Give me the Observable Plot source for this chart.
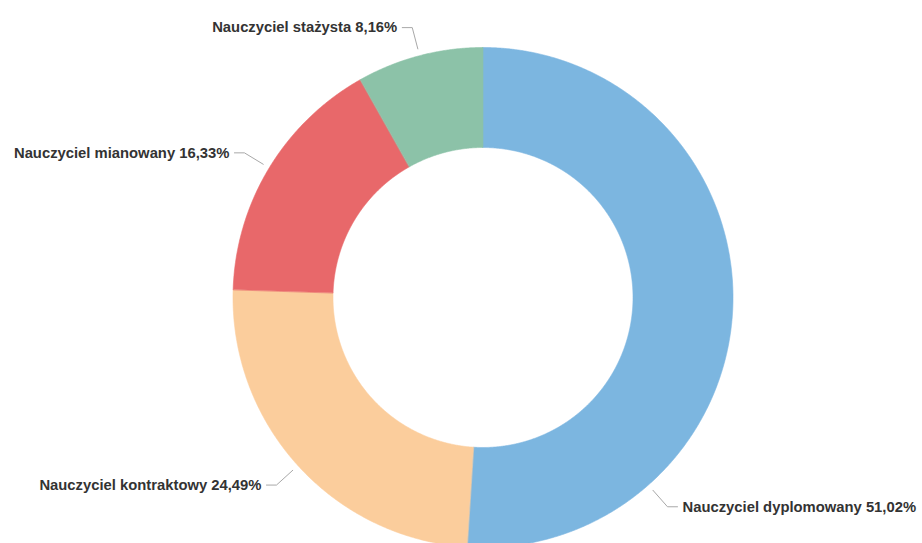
<!DOCTYPE html>
<html>
<head>
<meta charset="utf-8">
<script src="https://cdn.jsdelivr.net/npm/d3@7"></script>
<script src="https://cdn.jsdelivr.net/npm/@observablehq/plot@0.6"></script>
<style>
  html, body { margin: 0; padding: 0; background: #fff; overflow: hidden; }
</style>
</head>
<body>
<div id="chart"></div>
<script>
// ---- data ----
const categories = ["Nauczyciel dyplomowany", "Nauczyciel kontraktowy", "Nauczyciel mianowany", "Nauczyciel stażysta"];
const shares = [51.02, 24.49, 16.33, 8.16];
const colors = ["#7cb6e0", "#fbcd9c", "#e8686a", "#8cc2a8"];

// ---- layout ----
const W = 922, H = 543;
const CX = 482.5, CY = 297;      // donut centre in pixels
const R_OUT = 250, R_IN = 150;   // radii
const LABEL_ANGLE_OVERRIDE = [138.6, null, null, null]; // degrees clockwise from top
const CONNECT_R = 257, ELBOW_R = 279, HSEG = 10, TEXT_GAP = 15;

const total = d3.sum(shares);
const rad = (deg) => deg * Math.PI / 180;
const pt = (r, deg) => ({x: r * Math.sin(rad(deg)), y: r * Math.cos(rad(deg))});

let acc = 0;
const slices = categories.map((c, i) => {
  const a0 = acc / total * 360;
  acc += shares[i];
  const a1 = acc / total * 360;
  return {c, i, a0, a1, mid: (a0 + a1) / 2};
});

// polygon points for each slice
function slicePoints(s) {
  const n = Math.max(8, Math.ceil((s.a1 - s.a0) / 0.25));
  const pts = [];
  for (let k = 0; k <= n; k++) pts.push(pt(R_OUT, s.a0 + (s.a1 - s.a0) * k / n));
  for (let k = n; k >= 0; k--) pts.push(pt(R_IN, s.a0 + (s.a1 - s.a0) * k / n));
  return pts;
}

const fmt = (v) => v.toFixed(2).replace(".", ",") + "%";
const labels = slices.map((s) => {
  const ang = LABEL_ANGLE_OVERRIDE[s.i] ?? s.mid;
  const start = pt(CONNECT_R, ang);
  const elbow = pt(ELBOW_R, ang);
  const side = Math.sin(rad(ang)) >= 0 ? 1 : -1;
  return {
    text: `${s.c} ${fmt(shares[s.i])}`,
    side,
    line: [start, elbow, {x: elbow.x + side * HSEG, y: elbow.y}],
    tx: elbow.x + side * TEXT_GAP,
    ty: elbow.y
  };
});

const textStyle = {
  fontFamily: "'Liberation Sans', Arial, sans-serif",
  fontSize: 14.8,
  fontWeight: "bold",
  fill: "#333333"
};

const chart = Plot.plot({
  width: W,
  height: H,
  margin: 0,
  x: {domain: [-CX, W - CX], axis: null},
  y: {domain: [-(H - CY), CY], axis: null},
  marks: [
    ...slices.map((s) => Plot.line(slicePoints(s), {
      x: "x", y: "y", fill: colors[s.i], stroke: colors[s.i], strokeWidth: 0.6, curve: "linear-closed"
    })),
    ...labels.map((l) => Plot.line(l.line, {x: "x", y: "y", stroke: "#a8a8a8", strokeWidth: 1})),
    Plot.text(labels.filter((l) => l.side < 0), {x: "tx", y: "ty", text: "text", textAnchor: "end", ...textStyle}),
    Plot.text(labels.filter((l) => l.side > 0), {x: "tx", y: "ty", text: "text", textAnchor: "start", ...textStyle})
  ]
});
document.getElementById("chart").appendChild(chart);
</script>
</body>
</html>
